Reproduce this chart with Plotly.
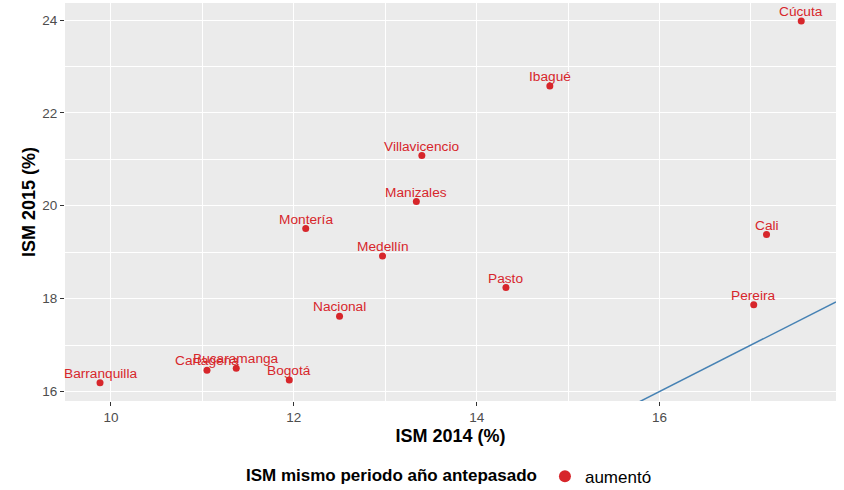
import plotly.graph_objects as go

ciudades = ["Barranquilla", "Cartagena", "Bucaramanga", "Bogotá", "Nacional", "Medellín",
            "Montería", "Manizales", "Villavicencio", "Ibagué", "Cúcuta", "Pasto", "Cali", "Pereira"]
ism_2014 = [9.88, 11.05, 11.37, 11.95, 12.50, 12.97, 12.13, 13.34, 13.40, 14.80, 17.55, 14.32, 17.17, 17.03]
ism_2015 = [16.19, 16.46, 16.50, 16.25, 17.62, 18.92, 19.51, 20.09, 21.08, 22.58, 23.98, 18.24, 19.38, 17.87]
categoria = "aumentó"
x_range = [9.497, 17.93]
y_range = [15.796, 24.366]

RED = "#D7262B"
BLUE = "#4682B4"
FONT = "Liberation Sans, Arial, sans-serif"

fig = go.Figure()

# identity line y = x
fig.add_trace(go.Scatter(
    x=x_range, y=x_range, mode="lines",
    line=dict(color=BLUE, width=1.5), showlegend=False, hoverinfo="skip"))

fig.add_trace(go.Scatter(
    x=ism_2014, y=ism_2015, mode="markers",
    marker=dict(color=RED, size=7),
    name=categoria, cliponaxis=False))

annotations = [
    dict(x=xv, y=yv, text=t, showarrow=False, xanchor="center", yanchor="middle",
         yshift=9.5, font=dict(color=RED, size=13.7, family=FONT))
    for t, xv, yv in zip(ciudades, ism_2014, ism_2015)
]

fig.update_layout(
    width=844, height=490,
    margin=dict(l=65, r=8, t=3, b=89, autoexpand=False),
    paper_bgcolor="white", plot_bgcolor="#EBEBEB",
    font=dict(family=FONT, color="#000000"),
    showlegend=True,
    annotations=annotations,
    legend=dict(
        orientation="h", x=0.5, xanchor="center", y=-0.145, yanchor="top",
        title=dict(text="<b>ISM mismo periodo año antepasado</b>", font=dict(size=17, color="black"), side="left"),
        font=dict(size=17, color="black"),
        bgcolor="rgba(0,0,0,0)", itemsizing="constant"),
    xaxis=dict(
        range=x_range, dtick=2, tick0=0, showgrid=True, gridcolor="white", gridwidth=1.1,
        minor=dict(dtick=1, tick0=0, showgrid=True, gridcolor="white", gridwidth=0.5, ticks=""),
        zeroline=False, showline=False, automargin=False,
        ticks="outside", ticklen=4, tickcolor="#333333", tickwidth=1.1,
        tickfont=dict(size=13.5, color="#4D4D4D"),
        title=dict(text="<b>ISM 2014 (%)</b>", font=dict(size=18, color="black"), standoff=5)),
    yaxis=dict(
        range=y_range, dtick=2, tick0=0, showgrid=True, gridcolor="white", gridwidth=1.1,
        minor=dict(dtick=1, tick0=0, showgrid=True, gridcolor="white", gridwidth=0.5, ticks=""),
        zeroline=False, showline=False, automargin=False,
        ticks="outside", ticklen=4, tickcolor="#333333", tickwidth=1.1,
        tickfont=dict(size=13.5, color="#4D4D4D"),
        title=dict(text="<b>ISM 2015 (%)</b>", font=dict(size=18, color="black"), standoff=1)),
)

fig.write_html("out.html", config={"displayModeBar": False},
               post_script="document.body.style.margin='0';")
